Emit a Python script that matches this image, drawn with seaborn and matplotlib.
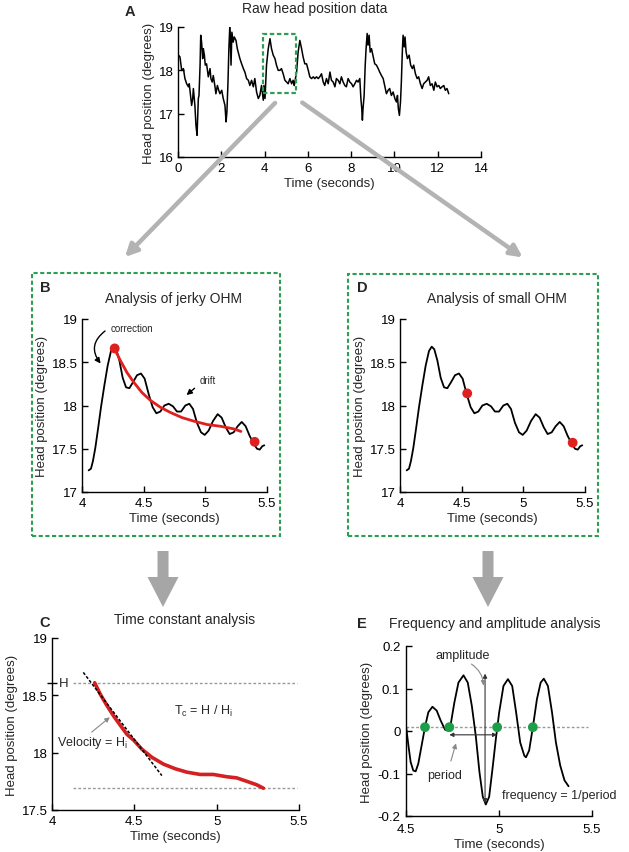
import matplotlib
matplotlib.use("Agg")
import matplotlib.pyplot as plt
from matplotlib.patches import Rectangle, FancyArrow, FancyArrowPatch
from matplotlib.ticker import FuncFormatter
import seaborn as sns

W, H = 629, 853

# Panel A: raw head position trace
RAW_T = [0.02, 0.09, 0.12, 0.17, 0.25, 0.32, 0.40, 0.48, 0.52, 0.58,
         0.63, 0.68, 0.71, 0.75, 0.78, 0.83, 0.88, 0.91, 0.94, 0.97,
         1.02, 1.05, 1.09, 1.14, 1.17, 1.22, 1.26, 1.32, 1.40, 1.48,
         1.52, 1.58, 1.63, 1.71, 1.75, 1.82, 1.88, 1.94, 2.02, 2.09,
         2.17, 2.22, 2.26, 2.31, 2.35, 2.40, 2.45, 2.49, 2.55, 2.60,
         2.68, 2.74, 2.86, 2.94, 3.02, 3.09, 3.17, 3.25, 3.32, 3.40,
         3.48, 3.55, 3.63, 3.71, 3.78, 3.86, 3.94, 3.97, 4.02, 4.09,
         4.17, 4.25, 4.32, 4.40, 4.48, 4.55, 4.63, 4.71, 4.78, 4.86,
         4.94, 5.02, 5.09, 5.17, 5.25, 5.32, 5.37, 5.40, 5.48, 5.55,
         5.63, 5.71, 5.78, 5.86, 5.94, 6.02, 6.09, 6.17, 6.25, 6.32,
         6.40, 6.48, 6.55, 6.63, 6.71, 6.78, 6.86, 6.94, 7.02, 7.09,
         7.17, 7.25, 7.32, 7.40, 7.48, 7.55, 7.63, 7.71, 7.78, 7.86,
         7.94, 8.02, 8.09, 8.17, 8.25, 8.32, 8.40, 8.45, 8.49, 8.52,
         8.55, 8.60, 8.65, 8.69, 8.74, 8.78, 8.83, 8.88, 8.94, 9.02,
         9.09, 9.17, 9.25, 9.32, 9.40, 9.48, 9.55, 9.63, 9.71, 9.78,
         9.86, 9.94, 10.02, 10.09, 10.14, 10.18, 10.23, 10.28, 10.32, 10.37,
         10.40, 10.45, 10.49, 10.54, 10.60, 10.68, 10.75, 10.83, 10.89, 10.97,
         11.05, 11.12, 11.20, 11.28, 11.35, 11.43, 11.51, 11.58, 11.66, 11.74,
         11.82, 11.89, 11.97, 12.05, 12.12, 12.20, 12.28, 12.35, 12.43, 12.51]
RAW_V = [18.35, 18.31, 18.19, 18.00, 18.04, 17.81, 17.69, 17.62, 17.69, 17.42,
         17.19, 17.35, 17.58, 17.35, 17.19, 16.73, 16.50, 16.96, 17.35, 17.42,
         18.12, 18.81, 18.65, 18.27, 18.50, 18.35, 18.12, 18.15, 17.85, 18.04,
         17.81, 17.73, 17.88, 17.62, 17.46, 17.65, 17.54, 17.46, 17.54, 17.35,
         17.19, 16.81, 17.04, 17.73, 18.50, 19.08, 18.12, 18.88, 18.65, 18.77,
         18.69, 18.50, 18.27, 18.15, 18.04, 17.96, 17.81, 17.77, 17.65, 17.77,
         17.62, 17.81, 17.50, 17.35, 17.42, 17.65, 17.31, 17.65, 17.35, 18.12,
         18.50, 18.73, 18.50, 18.35, 18.27, 18.12, 18.00, 18.00, 18.04, 17.92,
         17.77, 17.73, 17.69, 17.81, 17.69, 17.77, 17.65, 17.73, 17.96, 18.42,
         18.69, 18.50, 18.31, 18.15, 18.15, 18.00, 17.85, 17.81, 17.85, 17.81,
         17.85, 17.81, 17.85, 17.92, 17.73, 17.65, 17.81, 17.69, 17.96, 17.77,
         17.73, 17.62, 17.81, 17.77, 17.69, 17.85, 17.73, 17.65, 17.62, 17.81,
         17.73, 17.69, 17.62, 17.69, 17.77, 17.73, 17.81, 17.35, 17.12, 16.85,
         17.12, 17.42, 18.12, 18.50, 18.85, 18.58, 18.81, 18.42, 18.50, 18.31,
         18.15, 18.12, 18.04, 17.96, 17.88, 17.81, 17.65, 17.46, 17.54, 17.58,
         17.42, 17.50, 17.35, 17.27, 17.42, 17.12, 16.96, 17.27, 17.73, 18.50,
         18.81, 18.54, 18.77, 18.42, 18.27, 18.35, 18.12, 18.04, 18.12, 17.92,
         17.81, 17.85, 17.69, 17.58, 17.69, 17.73, 17.77, 17.85, 17.65, 17.69,
         17.54, 17.73, 17.62, 17.65, 17.58, 17.62, 17.65, 17.54, 17.58, 17.46]

# Panels B and D: zoomed OHM segment
OHM_T = [4.054, 4.073, 4.089, 4.108, 4.130, 4.154, 4.181, 4.208, 4.235, 4.257,
         4.278, 4.303, 4.330, 4.357, 4.384, 4.414, 4.446, 4.478, 4.508, 4.541,
         4.573, 4.603, 4.635, 4.668, 4.703, 4.738, 4.770, 4.803, 4.838, 4.870,
         4.900, 4.932, 4.965, 4.995, 5.027, 5.062, 5.100, 5.132, 5.165, 5.197,
         5.230, 5.262, 5.295, 5.327, 5.359, 5.392, 5.419, 5.441, 5.462, 5.478]
OHM_V = [17.25, 17.27, 17.36, 17.51, 17.73, 17.98, 18.23, 18.46, 18.63, 18.68,
         18.65, 18.52, 18.32, 18.21, 18.20, 18.27, 18.35, 18.37, 18.31, 18.13,
         17.98, 17.91, 17.93, 18.00, 18.02, 17.99, 17.93, 17.93, 18.00, 18.02,
         17.96, 17.80, 17.69, 17.66, 17.71, 17.82, 17.90, 17.86, 17.75, 17.67,
         17.69, 17.76, 17.81, 17.76, 17.65, 17.56, 17.50, 17.49, 17.53, 17.54]

# Panel B: drift fit and markers
FIT_T = [4.262, 4.311, 4.365, 4.419, 4.486, 4.554, 4.635, 4.716, 4.811, 4.905,
         5.014, 5.122, 5.230, 5.289]
FIT_V = [18.66, 18.52, 18.38, 18.27, 18.15, 18.06, 17.98, 17.92, 17.86, 17.82,
         17.78, 17.76, 17.73, 17.70]
JERKY_DOT_T = [4.265, 5.40]
JERKY_DOT_V = [18.66, 17.58]

# Panel D markers
SMALL_DOT_T = [4.545, 5.40]
SMALL_DOT_V = [18.14, 17.57]

# Panel C: time constant
TC_T = [4.259, 4.293, 4.334, 4.374, 4.414, 4.455, 4.495, 4.546, 4.606, 4.677,
        4.748, 4.819, 4.900, 4.980, 5.061, 5.122, 5.183, 5.243, 5.284]
TC_V = [18.61, 18.51, 18.41, 18.32, 18.24, 18.16, 18.11, 18.03, 17.96, 17.90,
        17.86, 17.83, 17.81, 17.81, 17.79, 17.78, 17.75, 17.72, 17.69]
TANGENT_T = [4.19, 4.667]
TANGENT_V = [18.70, 17.80]
H_LEVELS = [18.61, 17.69]

# Panel E: oscillation around the drift
OSC_T = [4.500, 4.513, 4.525, 4.539, 4.552, 4.566, 4.584, 4.602, 4.620, 4.642,
         4.665, 4.687, 4.710, 4.724, 4.742, 4.760, 4.782, 4.809, 4.832, 4.854,
         4.875, 4.895, 4.913, 4.929, 4.947, 4.965, 4.983, 5.001, 5.024, 5.048,
         5.071, 5.092, 5.114, 5.136, 5.145, 5.162, 5.182, 5.204, 5.224, 5.241,
         5.263, 5.285, 5.306, 5.329, 5.352, 5.374]
OSC_V = [0.012, -0.034, -0.073, -0.093, -0.095, -0.077, -0.034, 0.009, 0.044, 0.057,
         0.048, 0.024, 0.003, 0.001, 0.020, 0.067, 0.114, 0.131, 0.114, 0.059,
         -0.011, -0.097, -0.155, -0.173, -0.155, -0.089, -0.019, 0.044, 0.106, 0.122,
         0.106, 0.044, -0.027, -0.058, -0.062, -0.046, 0.009, 0.075, 0.114, 0.123,
         0.106, 0.044, -0.027, -0.081, -0.116, -0.130]
CROSS_T = [4.602, 4.733, 4.990, 5.182]
CROSS_V = [0.009, 0.009, 0.009, 0.009]
ZERO_LEVEL = 0.009
AMP_T = 4.925
AMP_LOW, AMP_HIGH = -0.17, 0.135
PERIOD_START, PERIOD_END = 4.733, 4.990
PERIOD_V = -0.009

GREEN = "#2f9e55"
RED = "#e0201f"

sns.set_theme(style="ticks")
plt.rcParams["font.family"] = ["Liberation Sans", "DejaVu Sans"]
plt.rcParams["mathtext.default"] = "regular"
plt.rcParams.update({
    "xtick.direction": "in", "ytick.direction": "in",
    "xtick.major.size": 4, "ytick.major.size": 4,
    "xtick.major.width": 1, "ytick.major.width": 1,
    "xtick.labelsize": 9.5, "ytick.labelsize": 9.5,
    "axes.labelsize": 9.5, "axes.linewidth": 1,
    "axes.edgecolor": "black", "xtick.color": "black", "ytick.color": "black",
    "xtick.major.pad": 3.5, "ytick.major.pad": 3,
})


def box(l, t, r, b):
    return [l / W, 1 - b / H, (r - l) / W, (b - t) / H]


def fxy(x, y):
    return (x / W, 1 - y / H)


fmt = FuncFormatter(lambda v, p: f"{v:g}")

fig = plt.figure(figsize=(6.29, 8.53), dpi=100)
axA = fig.add_axes(box(178, 28, 481, 158))
axB = fig.add_axes(box(82, 320, 267, 493))
axD = fig.add_axes(box(400, 320, 585, 493))
axC = fig.add_axes(box(52, 639, 299, 811))
axE = fig.add_axes(box(406, 647, 592, 817))

for ax in (axA, axB, axD, axC, axE):
    sns.despine(ax=ax)
    ax.xaxis.set_major_formatter(fmt)
    ax.yaxis.set_major_formatter(fmt)
    ax.set_xlabel("Time (seconds)", labelpad=2.5)
    ax.set_ylabel("Head position (degrees)", labelpad=3)

# ---- A
sns.lineplot(x=RAW_T, y=RAW_V, ax=axA, color="black", lw=1.1, errorbar=None)
axA.set_xlim(0, 14)
axA.set_ylim(16, 19)
axA.set_xticks(range(0, 15, 2))
axA.set_yticks([16, 17, 18, 19])
axA.add_patch(Rectangle((3.92, 17.48), 1.53, 1.37, fill=False, ec=GREEN,
                        lw=1.6, ls=(0, (2, 1.2)), zorder=5))

# ---- B and D
for ax in (axB, axD):
    sns.lineplot(x=OHM_T, y=OHM_V, ax=ax, color="black", lw=1.3, errorbar=None)
    ax.set_xlim(4, 5.5)
    ax.set_ylim(17, 19)
    ax.set_xticks([4, 4.5, 5, 5.5])
    ax.set_yticks([17, 17.5, 18, 18.5, 19])

sns.lineplot(x=FIT_T, y=FIT_V, ax=axB, color=RED, lw=2, errorbar=None)
sns.scatterplot(x=JERKY_DOT_T, y=JERKY_DOT_V, ax=axB, color=RED, s=50,
                marker="o", edgecolor="none", zorder=5)
sns.scatterplot(x=SMALL_DOT_T, y=SMALL_DOT_V, ax=axD, color=RED, s=50,
                marker="o", edgecolor="none", zorder=5)

axB.text(4.23, 18.90, "correction", fontsize=7, va="center", ha="left")
axB.annotate("", xy=(4.165, 18.46), xytext=(4.205, 18.88),
             arrowprops=dict(arrowstyle="-|>", color="black", lw=1,
                             connectionstyle="arc3,rad=0.55", mutation_scale=8))
axB.text(4.95, 18.29, "drift", fontsize=7, va="center", ha="left")
axB.annotate("", xy=(4.83, 18.10), xytext=(4.93, 18.22),
             arrowprops=dict(arrowstyle="-|>", color="black", lw=1, mutation_scale=8))

# ---- C
axC.hlines(H_LEVELS, 4.13, 5.49, colors="#999999", linestyles=(0, (2, 1.5)), lw=1)
sns.lineplot(x=TC_T, y=TC_V, ax=axC, color="#d42020", lw=2.6, errorbar=None)
sns.lineplot(x=TANGENT_T, y=TANGENT_V, ax=axC, color="black", lw=1.1,
             linestyle=(0, (2, 1.2)), errorbar=None)
axC.set_xlim(4, 5.5)
axC.set_ylim(17.5, 19)
axC.set_xticks([4, 4.5, 5, 5.5])
axC.set_yticks([17.5, 18, 18.5, 19])
axC.set_yticks([H_LEVELS[0]], minor=True)
axC.tick_params(axis="y", which="minor", direction="inout", length=7, width=1)
axC.text(4.07, H_LEVELS[0], "H", fontsize=9.5, ha="center", va="center")
axC.text(4.74, 18.37, "T$_c$ = H / H$_i$", fontsize=9, ha="left", va="center")
axC.text(4.03, 18.09, "Velocity = H$_i$", fontsize=9, ha="left", va="center")
axC.annotate("", xy=(4.364, 18.324), xytext=(4.228, 18.164),
             arrowprops=dict(arrowstyle="-|>", color="#888888", lw=0.8, mutation_scale=7))

# ---- E
axE.axhline(ZERO_LEVEL, xmin=0, xmax=0.98, color="#999999", ls=(0, (2, 1.5)), lw=1)
sns.lineplot(x=OSC_T, y=OSC_V, ax=axE, color="black", lw=1.3, errorbar=None)
sns.scatterplot(x=CROSS_T, y=CROSS_V, ax=axE, color="#1f9e4a", s=50,
                edgecolor="none", zorder=5)
axE.annotate("", xy=(AMP_T, AMP_HIGH), xytext=(AMP_T, AMP_LOW),
             arrowprops=dict(arrowstyle="<|-|>", color="#333333", lw=0.8, mutation_scale=6,
                             shrinkA=0, shrinkB=0))
axE.annotate("", xy=(PERIOD_END, PERIOD_V), xytext=(PERIOD_START, PERIOD_V),
             arrowprops=dict(arrowstyle="<|-|>", color="#333333", lw=0.8, mutation_scale=6,
                             shrinkA=0, shrinkB=0))
axE.text(4.803, 0.178, "amplitude", fontsize=9, ha="center", va="center")
axE.annotate("", xy=(4.917, 0.10), xytext=(4.839, 0.161),
             arrowprops=dict(arrowstyle="-|>", color="#888888", lw=0.8, mutation_scale=7,
                             connectionstyle="arc3,rad=-0.3"))
axE.text(4.71, -0.103, "period", fontsize=9, ha="center", va="center")
axE.annotate("", xy=(4.773, -0.023), xytext=(4.737, -0.077),
             arrowprops=dict(arrowstyle="-|>", color="#888888", lw=0.8, mutation_scale=7))
axE.text(5.015, -0.15, "frequency = 1/period", fontsize=9, ha="left", va="center")
axE.set_xlim(4.5, 5.5)
axE.set_ylim(-0.2, 0.2)
axE.set_xticks([4.5, 5, 5.5])
axE.set_yticks([-0.2, -0.1, 0, 0.1, 0.2])
axE.tick_params(axis="x", pad=5)
axE.tick_params(axis="y", pad=4)

# ---- titles and panel letters
for (x, y), s in (((315, 9), "Raw head position data"),
                  ((173, 299), "Analysis of jerky OHM"),
                  ((497, 299), "Analysis of small OHM"),
                  ((185, 620), "Time constant analysis"),
                  ((495, 624), "Frequency and amplitude analysis")):
    fig.text(*fxy(x, y), s, fontsize=10, ha="center", va="center")
for (x, y), s in (((130, 12), "A"), ((45, 288), "B"), ((362, 288), "D"),
                  ((45, 623), "C"), ((362, 624), "E")):
    fig.text(*fxy(x, y), s, fontsize=10.5, fontweight="bold", ha="center", va="center")

# ---- dashed green frames around B and D
for l, t, r, b in ((32, 274, 280, 537), (348, 275, 598, 537)):
    fig.add_artist(Rectangle(fxy(l, b), (r - l) / W, (b - t) / H, transform=fig.transFigure,
                             fill=False, ec=GREEN, lw=1.5, ls=(0, (2, 1.2))))

# ---- gray connector arrows
for p0, p1 in (((277, 102), (123, 260)), ((300, 102), (525, 260))):
    fig.add_artist(FancyArrowPatch(fxy(*p0), fxy(*p1), transform=fig.transFigure,
                                   arrowstyle="-|>", mutation_scale=18, lw=3.2,
                                   color="#b3b3b3", zorder=10))
for cx in (163, 488):
    fig.add_artist(FancyArrow(cx / 100, (H - 552) / 100, 0, -0.56, width=0.11,
                              head_width=0.31, head_length=0.30, length_includes_head=True,
                              color="#a6a6a6", ec="none", transform=fig.dpi_scale_trans))

fig.savefig("out.png", dpi=100)
